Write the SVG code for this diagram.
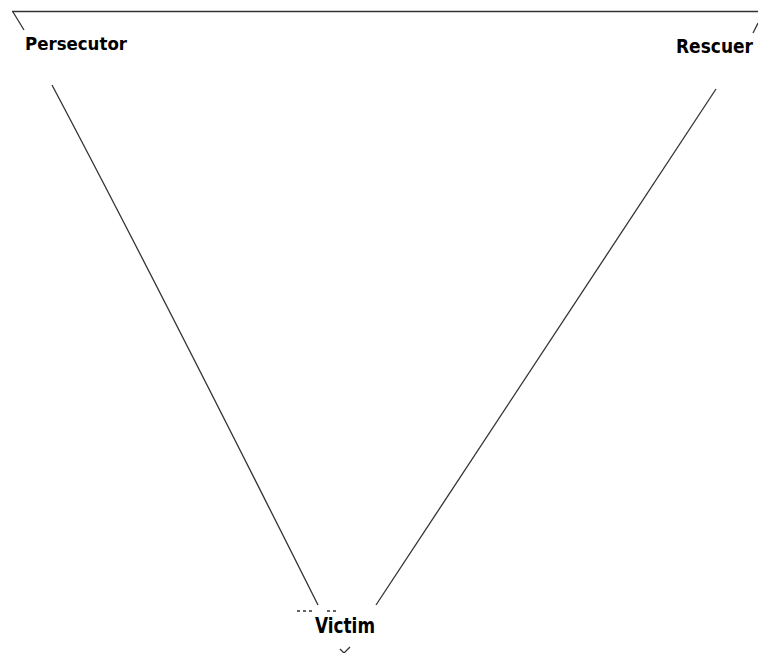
<svg xmlns="http://www.w3.org/2000/svg" width="758" height="653" viewBox="0 0 758 653">
<style>
.lbl{font-family:"DejaVu Sans Condensed","DejaVu Sans","Liberation Sans",sans-serif;font-weight:bold;fill:#000}
.ln{fill:none;stroke:#333;stroke-width:1.3}
</style>
<rect width="758" height="653" fill="#fff"/>
<g id="frame">
<line class="ln" x1="12" y1="11.5" x2="758" y2="11.5" stroke-width="2" stroke="#444"/>
<line class="ln" x1="13" y1="12" x2="24" y2="30"/>
<line class="ln" x1="758" y1="23" x2="753" y2="33"/>
</g>
<g id="persecutor">
<text class="lbl" x="25" y="50" font-size="17" textLength="102" lengthAdjust="spacingAndGlyphs">Persecutor</text>
</g>
<g id="rescuer">
<text class="lbl" x="676" y="53" font-size="19" textLength="77" lengthAdjust="spacingAndGlyphs">Rescuer</text>
</g>
<g id="victim">
<line x1="297" y1="611" x2="315" y2="611" stroke="#333" stroke-width="1.3" stroke-dasharray="3,3"/>
<line x1="327" y1="611" x2="339" y2="611" stroke="#333" stroke-width="1.3" stroke-dasharray="3,3"/>
<text class="lbl" x="315" y="633" font-size="21" textLength="60" lengthAdjust="spacingAndGlyphs">Victim</text>
<polyline class="ln" points="340,649 344,653 350,647"/>
</g>
<g id="connectors">
<path class="ln" d="M52,85 Q150,270 318,605"/>
<line class="ln" x1="716" y1="89" x2="376" y2="605"/>
</g>
</svg>
